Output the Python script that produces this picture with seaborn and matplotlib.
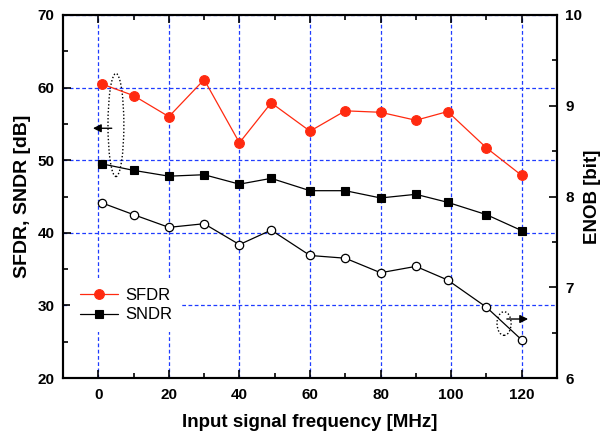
import matplotlib

matplotlib.use("Agg")
import matplotlib.pyplot as plt
import pandas as pd
import seaborn as sns
from matplotlib.patches import Ellipse
from matplotlib.ticker import MultipleLocator

# values
freq = [1, 10, 20, 30, 40, 49, 60, 70, 80, 90, 99, 110, 120]
sfdr = [60.5, 58.9, 56.0, 61.1, 52.4, 57.9, 54.0, 56.8, 56.6, 55.5, 56.7, 51.7, 47.9]
sndr = [49.5, 48.6, 47.8, 48.0, 46.7, 47.5, 45.8, 45.8, 44.8, 45.3, 44.2, 42.5, 40.3]
enob = [7.93, 7.80, 7.66, 7.70, 7.47, 7.63, 7.35, 7.32, 7.16, 7.23, 7.08, 6.78, 6.42]

df = pd.DataFrame({"freq": freq, "SFDR": sfdr, "SNDR": sndr, "ENOB": enob})

sns.set_style("ticks")
plt.rcParams["font.family"] = ["Liberation Sans", "DejaVu Sans"]
plt.rcParams.update({
    "text.color": "black",
    "axes.labelcolor": "black",
    "axes.edgecolor": "black",
    "xtick.color": "black",
    "ytick.color": "black",
})

fig = plt.figure(figsize=(6.01, 4.34), dpi=100)
ax = fig.add_axes([63 / 601, 1 - 378 / 434, 494 / 601, 363 / 434])
ax2 = ax.twinx()

red = "#ff2a10"
sns.lineplot(data=df, x="freq", y="SFDR", ax=ax, color=red, lw=0.9,
             marker="o", markersize=7, mec=red, mew=0.8, label="SFDR")
sns.lineplot(data=df, x="freq", y="SNDR", ax=ax, color="black", lw=0.9,
             marker="s", markersize=5.5, mec="black", mew=0.8, label="SNDR")
sns.lineplot(data=df, x="freq", y="ENOB", ax=ax2, color="black", lw=0.9,
             marker="o", markersize=6, mfc="white", mec="black", mew=0.9,
             legend=False)

ax.set_xlim(-10, 130)
ax.set_ylim(20, 70)
ax2.set_ylim(6, 10)

ax.xaxis.set_major_locator(MultipleLocator(20))
ax.xaxis.set_minor_locator(MultipleLocator(10))
ax.yaxis.set_major_locator(MultipleLocator(10))
ax.yaxis.set_minor_locator(MultipleLocator(5))
ax2.yaxis.set_major_locator(MultipleLocator(1))
ax2.yaxis.set_minor_locator(MultipleLocator(0.5))

ax.grid(True, which="major", color="#1f3cff", linestyle=(0, (3, 2)), lw=0.9)
ax2.grid(False)

ax.tick_params(which="both", direction="in", top=True, right=False,
               width=1.2, labelsize=11, pad=6)
ax.tick_params(which="major", length=6)
ax.tick_params(which="minor", length=3.5)
ax.tick_params(axis="x", pad=7)
ax2.tick_params(which="both", direction="in", width=1.2, labelsize=11, pad=6)
ax2.tick_params(which="major", length=6)
ax2.tick_params(which="minor", length=3.5)
for a in (ax, ax2):
    for lab in a.get_xticklabels() + a.get_yticklabels():
        lab.set_fontweight("bold")
    for sp in a.spines.values():
        sp.set_linewidth(1.5)
        sp.set_color("black")
        sp.set_visible(True)

ax.set_xlabel("Input signal frequency [MHz]", fontsize=13.5, fontweight="bold", labelpad=9)
ax.set_ylabel("SFDR, SNDR [dB]", fontsize=14, fontweight="bold", labelpad=5)
ax2.set_ylabel("ENOB [bit]", fontsize=13.5, fontweight="bold", labelpad=1)

# dotted ellipses + arrows showing which axis each group belongs to
ax.add_patch(Ellipse((5.0, 54.85), 4.5, 14.2, fill=False, ls=(0, (1, 1.5)), lw=1, color="black"))
ax.annotate("", xy=(-2.3, 54.4), xytext=(4.6, 54.4),
            arrowprops=dict(arrowstyle="-|>", color="black", lw=1, mutation_scale=12))
ax2.add_patch(Ellipse((115.0, 6.60), 4.0, 0.26, angle=0, fill=False, ls=(0, (1, 1.5)), lw=1, color="black"))
ax2.annotate("", xy=(122.6, 6.65), xytext=(115.0, 6.65),
             arrowprops=dict(arrowstyle="-|>", color="black", lw=1, mutation_scale=12))

leg = ax.legend(loc="upper left", bbox_to_anchor=(0.014, 0.275), borderaxespad=0,
                fontsize=12, frameon=True, fancybox=False, framealpha=1,
                handlelength=2.3, handletextpad=0.4, labelspacing=0.25, borderpad=0.6)
leg.get_frame().set_edgecolor("none")
leg.get_frame().set_facecolor("white")

fig.savefig("out.png", dpi=100)
